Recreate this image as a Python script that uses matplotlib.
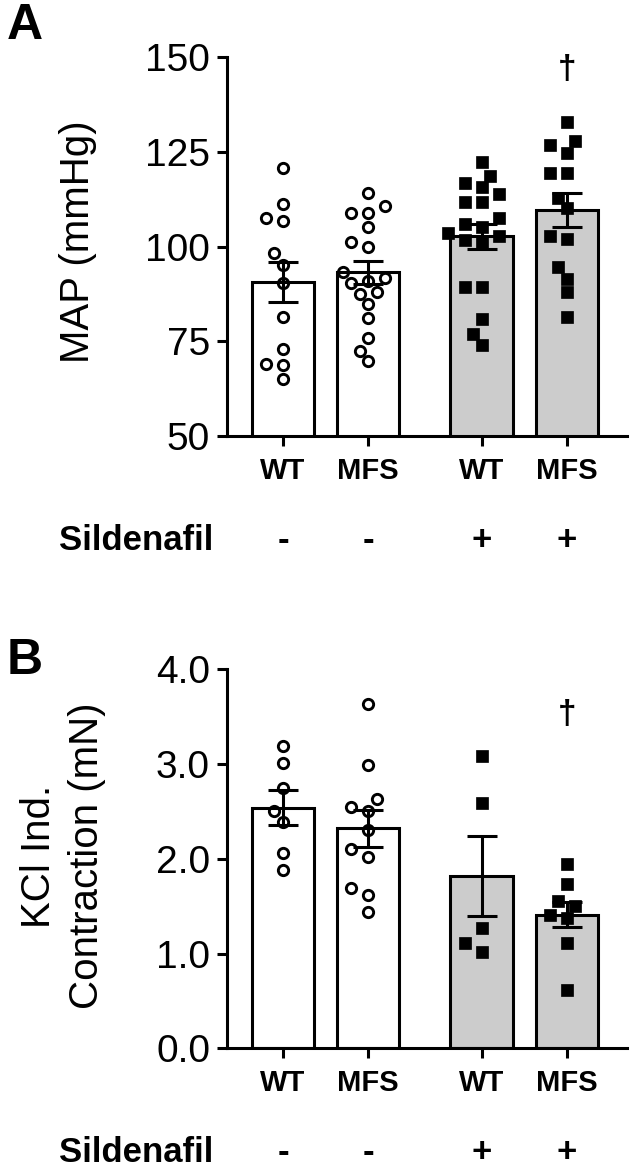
import numpy as np
import matplotlib.pyplot as plt
from matplotlib.transforms import blended_transform_factory

plt.rcParams['font.family'] = ['Liberation Sans', 'DejaVu Sans']

groups = ['WT', 'MFS', 'WT', 'MFS']
sildenafil = ['-', '-', '+', '+']

# panel A: MAP (mmHg), individual animals
map_wt = [120.9, 111.3, 107.5, 106.9, 98.2, 95.2, 90.3, 81.3, 72.9, 69.0, 68.7, 65.1]
map_mfs = [114.1, 110.8, 109.0, 108.8, 105.1, 101.3, 99.8, 93.4, 91.8, 91.0, 90.3,
           88.1, 87.5, 84.8, 81.1, 76.0, 72.4, 69.9]
map_wt_sil = [122.4, 118.7, 116.7, 115.8, 113.8, 111.9, 111.7, 107.5, 105.9, 105.3,
              103.5, 102.9, 101.8, 101.0, 89.4, 89.4, 80.8, 76.9, 74.0]
map_mfs_sil = [133.0, 128.0, 126.8, 124.8, 119.5, 119.4, 112.9, 110.1, 102.8, 101.9,
               94.7, 91.5, 87.9, 81.3]
map_mean = [90.7, 93.2, 102.8, 109.7]
map_sem = [5.3, 3.1, 3.3, 4.4]

# panel B: KCl induced contraction (mN)
kcl_wt = [3.19, 3.01, 2.75, 2.50, 2.39, 2.06, 1.88]
kcl_mfs = [3.63, 2.99, 2.63, 2.55, 2.50, 2.30, 2.10, 2.02, 1.69, 1.62, 1.44]
kcl_wt_sil = [3.08, 2.59, 1.27, 1.11, 1.02]
kcl_mfs_sil = [1.94, 1.73, 1.55, 1.50, 1.41, 1.38, 1.11, 0.62]
kcl_mean = [2.54, 2.32, 1.82, 1.41]
kcl_sem = [0.185, 0.195, 0.42, 0.135]

pos = [0, 1, 2.34, 3.34]
bar_colors = ['white', 'white', '#cccccc', '#cccccc']
lw = 2.2


def swarm(ax, x0, vals, step=8.5, dmin=12.5):
    # simple beeswarm in pixel space
    ys = ax.transData.transform(np.column_stack([np.full(len(vals), x0), vals]))[:, 1]
    cands = [0] + [s * j * step for j in range(1, 10) for s in (-1, 1)]
    placed = []
    offs = np.zeros(len(vals))
    for i in np.argsort(ys):
        for c in cands:
            if all(np.hypot(c - px, ys[i] - py) >= dmin for px, py in placed):
                break
        placed.append((c, ys[i]))
        offs[i] = c
    ppu = ax.transData.transform((1, 0))[0] - ax.transData.transform((0, 0))[0]
    return x0 + offs / ppu


def panel(ax, sets, means, sems, ylim, yticks, fmt, dagger_y):
    ax.set_xlim(-0.662, 4.046)
    ax.set_ylim(*ylim)
    ax.bar(pos, means, width=0.74, color=bar_colors, edgecolor='black', linewidth=lw, zorder=2)
    for i, vals in enumerate(sets):
        xs = swarm(ax, pos[i], vals)
        if i < 2:
            ax.plot(xs, vals, 'o', ms=7.4, mfc='none', mec='black', mew=2.1, zorder=3, clip_on=False)
        else:
            ax.plot(xs, vals, 's', ms=8.6, mfc='black', mec='black', mew=0.5, zorder=3, clip_on=False)
    ax.errorbar(pos, means, yerr=sems, fmt='none', ecolor='black', elinewidth=lw,
                capsize=10.8, capthick=lw, zorder=5)
    ax.text(pos[3], dagger_y, '\u2020', ha='center', va='center', fontsize=24, fontweight='bold')
    for s in ['top', 'right']:
        ax.spines[s].set_visible(False)
    for s in ['left', 'bottom']:
        ax.spines[s].set_linewidth(lw)
    ax.set_yticks(yticks)
    ax.set_yticklabels([fmt.format(t) for t in yticks])
    ax.set_xticks(pos)
    ax.set_xticklabels(groups, fontweight='bold', fontsize=21)
    ax.tick_params(axis='y', length=7, width=lw, labelsize=28, pad=5)
    ax.tick_params(axis='x', length=7, width=lw, pad=8)
    tr = blended_transform_factory(ax.transData, ax.transAxes)
    for x, s in zip(pos, sildenafil):
        ax.text(x, -0.3, s, transform=tr, ha='center', va='baseline', fontsize=25, fontweight='bold')
    trf = blended_transform_factory(fig.transFigure, ax.transAxes)
    ax.text(59 / 631, -0.3, 'Sildenafil', transform=trf, ha='left', va='baseline',
            fontsize=25, fontweight='bold')


fig = plt.figure(figsize=(6.31, 11.67), dpi=100)
axA = fig.add_axes([226.7 / 631, 1 - 436 / 1167, 400.3 / 631, 378.7 / 1167])
axB = fig.add_axes([226.7 / 631, 1 - 1048.3 / 1167, 400.3 / 631, 379 / 1167])

panel(axA, [map_wt, map_mfs, map_wt_sil, map_mfs_sil], map_mean, map_sem,
      (50, 150), [50, 75, 100, 125, 150], '{:.0f}', 146.9)
panel(axB, [kcl_wt, kcl_mfs, kcl_wt_sil, kcl_mfs_sil], kcl_mean, kcl_sem,
      (0, 4), [0, 1, 2, 3, 4], '{:.1f}', 3.52)

fig.text(78 / 631, 1 - 241.5 / 1167, 'MAP (mmHg)', rotation=90, ha='center', va='center', fontsize=29)
fig.text(63 / 631, 1 - 856 / 1167, 'KCl Ind.\nContraction (mN)', rotation=90, ha='center',
         va='center', multialignment='center', linespacing=1.35, fontsize=29)
fig.text(7 / 631, 1 - 3 / 1167, 'A', fontsize=36, fontweight='bold', ha='left', va='top')
fig.text(7 / 631, 1 - 638 / 1167, 'B', fontsize=36, fontweight='bold', ha='left', va='top')

fig.savefig('out.png', dpi=100)
